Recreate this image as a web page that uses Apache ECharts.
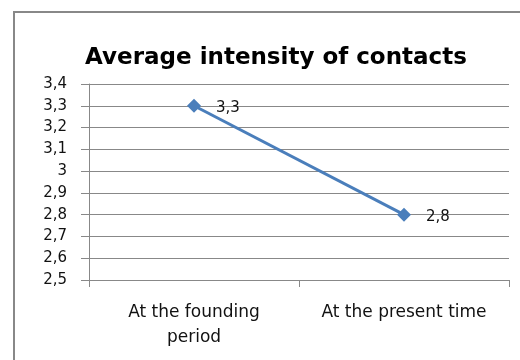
<!DOCTYPE html>
<html><head><meta charset="utf-8">
<script src="https://cdn.jsdelivr.net/npm/echarts@6/dist/echarts.min.js"></script>
<style>html,body{margin:0;padding:0;background:#fff}#c{width:520px;height:360px}</style>
</head><body><div id="c"></div>
<script>
var titleText = 'Average intensity of contacts';
var categories = ['At the founding\nperiod', 'At the present time'];
var values = [3.3, 2.8];
var yMin = 2.5, yMax = 3.4, yStep = 0.1;

var FONT = 'DejaVu Sans';
var fmt = function (v) { return String(Math.round(v * 10) / 10).replace('.', ','); };
var chart = echarts.init(document.getElementById('c'), null, {renderer: 'canvas'});
chart.setOption({
  animation: false,
  backgroundColor: '#fff',
  textStyle: {fontFamily: FONT},
  graphic: [{
    type: 'polyline',
    shape: {points: [[14, 362], [14, 12], [522, 12]]},
    style: {stroke: '#888', lineWidth: 2, fill: null}
  }],
  title: {
    text: titleText, left: 271, textAlign: 'center', top: 42,
    textStyle: {fontFamily: FONT, fontWeight: 'bold', fontSize: 23, color: '#000'}
  },
  grid: {left: 89, right: 11, top: 84, bottom: 80, containLabel: false},
  xAxis: {
    type: 'category', data: categories, boundaryGap: true,
    axisLine: {lineStyle: {color: '#888', width: 1}},
    axisTick: {show: true, interval: 0, length: 7, lineStyle: {color: '#888'}},
    axisLabel: {interval: 0, hideOverlap: false, fontFamily: FONT, fontSize: 17, color: '#111', margin: 20, lineHeight: 25}
  },
  yAxis: {
    type: 'value', min: yMin, max: yMax, interval: yStep,
    axisLine: {show: true, lineStyle: {color: '#888'}},
    axisTick: {show: true, length: 8, lineStyle: {color: '#888'}},
    splitLine: {lineStyle: {color: '#888', width: 1}},
    axisLabel: {fontFamily: FONT, fontSize: 15, color: '#111', margin: 22, formatter: fmt}
  },
  series: [{
    type: 'line', data: values,
    symbol: 'diamond', symbolSize: 14,
    lineStyle: {color: '#4a7ebb', width: 3},
    itemStyle: {color: '#4a7ebb'},
    label: {show: true, position: 'right', distance: 15, fontFamily: FONT, fontSize: 15, color: '#111', offset: [0, 2], formatter: function (p) { return fmt(p.value); }}
  }]
});
</script></body></html>
